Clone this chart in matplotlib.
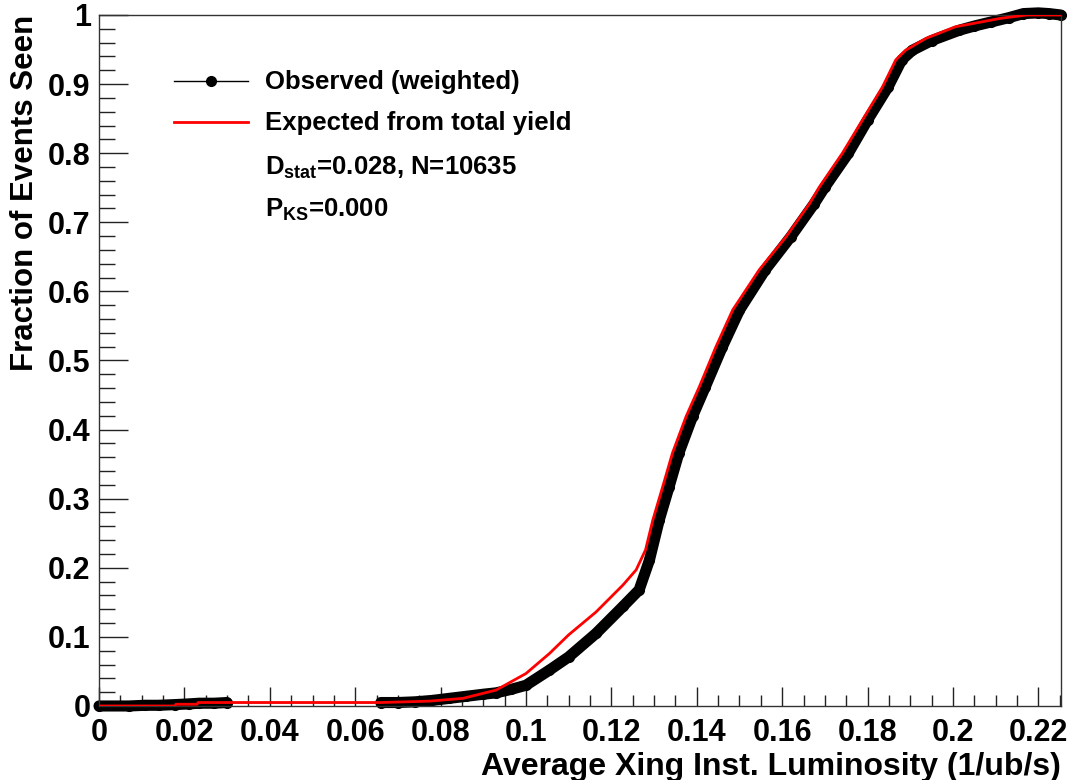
import numpy as np
import matplotlib
matplotlib.use("Agg")
import matplotlib.pyplot as plt
from matplotlib.ticker import MultipleLocator, FuncFormatter

plt.rcParams['font.family'] = ['Liberation Sans', 'DejaVu Sans']
plt.rcParams['font.weight'] = 'bold'
plt.rcParams['mathtext.fontset'] = 'custom'
plt.rcParams['mathtext.rm'] = 'Liberation Sans:bold'
plt.rcParams['mathtext.bf'] = 'Liberation Sans:bold'
plt.rcParams['mathtext.it'] = 'Liberation Sans:bold'

# observed (weighted) cumulative fraction
obs_x = [0.0, 0.0070, 0.0108, 0.014, 0.0178, 0.021, 0.0235, 0.027, 0.030,
         0.066, 0.070, 0.074, 0.078, 0.082, 0.086, 0.090, 0.093, 0.0965,
         0.100, 0.1055, 0.110, 0.1164, 0.1227, 0.1265, 0.1289, 0.1312,
         0.1335, 0.1358, 0.139, 0.142, 0.146, 0.150, 0.156, 0.162, 0.1675,
         0.170, 0.1755, 0.180, 0.1848, 0.188, 0.1905, 0.195, 0.2015, 0.205,
         0.209, 0.213, 0.2165, 0.220, 0.2225, 0.2252]
obs_y = [0.0, 0.0, 0.001, 0.001, 0.002, 0.003, 0.004, 0.004, 0.005,
         0.005, 0.005, 0.006, 0.008, 0.011, 0.014, 0.017, 0.019, 0.024,
         0.030, 0.052, 0.071, 0.105, 0.144, 0.168, 0.211, 0.269,
         0.317, 0.366, 0.419, 0.462, 0.520, 0.573, 0.631, 0.679, 0.727,
         0.751, 0.800, 0.848, 0.896, 0.935, 0.949, 0.963, 0.978, 0.984,
         0.990, 0.996, 1.002, 1.003, 1.002, 1.0]

# expected from total yield
exp_x = [0.0, 0.0178, 0.0180, 0.023, 0.0232, 0.066, 0.0774, 0.0852, 0.093,
         0.100, 0.1055, 0.110, 0.1164, 0.1227, 0.1258, 0.128, 0.1297, 0.132,
         0.1343, 0.1375, 0.1406, 0.1445, 0.1484, 0.1546, 0.1609, 0.1664,
         0.1687, 0.1741, 0.1788, 0.1835, 0.1866, 0.1889, 0.1936, 0.2006,
         0.205, 0.211, 0.2173, 0.2253]
exp_y = [0.0, 0.0, 0.0025, 0.0025, 0.005, 0.005, 0.007, 0.011, 0.023,
         0.047, 0.076, 0.103, 0.136, 0.175, 0.197, 0.226, 0.269, 0.317,
         0.366, 0.419, 0.462, 0.520, 0.573, 0.631, 0.679, 0.727,
         0.751, 0.800, 0.848, 0.896, 0.935, 0.949, 0.966, 0.983,
         0.988, 0.995, 1.0, 1.0]

obs_x = np.array(obs_x)
obs_y = np.array(obs_y)

fig = plt.figure(figsize=(10.75, 7.8), dpi=100)
ax = fig.add_axes([0.0921, 0.0949, 0.8949, 0.8859])

# thick band made by the dense markers, broken where there are no events
band_lo = obs_x <= 0.031
band_hi = obs_x >= 0.065
for m in (band_lo, band_hi):
    ax.plot(obs_x[m], obs_y[m], color='black', lw=8,
            solid_capstyle='round', solid_joinstyle='round', clip_on=False, zorder=2)
ax.plot(obs_x, obs_y, color='black', lw=1, marker='o', ms=7,
        clip_on=False, zorder=2)
ax.plot(exp_x, exp_y, color='red', lw=2, zorder=3)

ax.set_xlim(0, 0.2253)
ax.set_ylim(0, 1)

ax.xaxis.set_major_locator(MultipleLocator(0.02))
ax.xaxis.set_minor_locator(MultipleLocator(0.005))
ax.yaxis.set_major_locator(MultipleLocator(0.1))
ax.yaxis.set_minor_locator(MultipleLocator(0.02))
fmt = FuncFormatter(lambda v, p: '%g' % round(v, 4))
ax.xaxis.set_major_formatter(fmt)
ax.yaxis.set_major_formatter(fmt)

ax.tick_params(axis='both', which='both', direction='in', top=False, right=False,
               width=1, colors='#222222', labelcolor='black', labelsize=22)
ax.tick_params(axis='x', which='major', length=13.5, pad=9)
ax.tick_params(axis='x', which='minor', length=8)
ax.tick_params(axis='y', which='major', length=21, pad=6)
ax.tick_params(axis='y', which='minor', length=11.5)
for s in ax.spines.values():
    s.set_linewidth(1)
    s.set_color('#333333')

ax.set_xlabel('Average Xing Inst. Luminosity (1/ub/s)', fontsize=23,
              fontweight='bold', loc='right')
ax.xaxis.set_label_coords(1.0, -0.066)
ax.set_ylabel('Fraction of Events Seen', fontsize=22.5, fontweight='bold', loc='top')
ax.yaxis.set_label_coords(-0.061, 1.0)

# legend drawn by hand, ROOT style
ax.plot([0.078, 0.155], [0.9045, 0.9045], color='black', lw=1,
        transform=ax.transAxes, clip_on=False)
ax.plot([0.1164], [0.9045], color='black', marker='o', ms=7,
        transform=ax.transAxes, clip_on=False)
ax.plot([0.078, 0.155], [0.845, 0.845], color='red', lw=2,
        transform=ax.transAxes, clip_on=False)
tx = 0.1725
ax.text(tx, 0.8925, 'Observed (weighted)', transform=ax.transAxes,
        fontsize=18.5, fontweight='bold', va='baseline')
ax.text(tx, 0.833, 'Expected from total yield', transform=ax.transAxes,
        fontsize=18.5, fontweight='bold', va='baseline')
ax.text(tx, 0.769, r'D$_{\mathrm{stat}}$=0.028, N=10635', transform=ax.transAxes,
        fontsize=18.5, fontweight='bold', va='baseline')
ax.text(tx, 0.708, r'P$_{\mathrm{KS}}$=0.000', transform=ax.transAxes,
        fontsize=18.5, fontweight='bold', va='baseline')

fig.savefig('out.png', dpi=100)
plt.close(fig)
